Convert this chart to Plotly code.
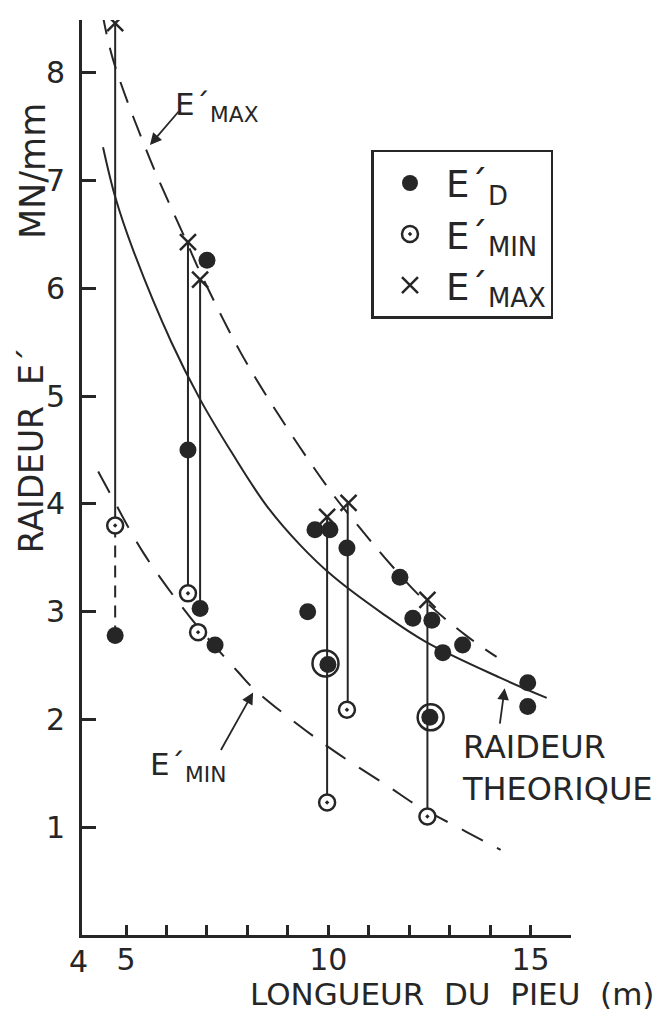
import plotly.graph_objects as go

# ---------------- data ----------------
# measured stiffness E'D  (length m, MN/mm)
ed_x = [4.73, 6.53, 6.83, 7.00, 7.20, 9.49, 9.67, 9.99, 10.04, 10.46, 11.77, 12.09, 12.51, 12.56, 12.83, 13.32, 14.93, 14.93]
ed_y = [2.78, 4.50, 3.03, 6.26, 2.69, 3.00, 3.76, 2.51, 3.76, 3.59, 3.32, 2.94, 2.02, 2.92, 2.62, 2.69, 2.34, 2.12]

# E'MIN points
emin_x = [4.73, 6.53, 6.78, 9.97, 10.46, 12.45]
emin_y = [3.80, 3.17, 2.81, 1.23, 2.09, 1.10]

# E'MAX points
emax_x = [4.73, 6.53, 6.83, 9.97, 10.50, 12.45]
emax_y = [8.46, 6.43, 6.08, 3.88, 4.01, 3.11]

# ringed points (E'D coinciding with a circled value)
ring_x = [9.93, 12.53]
ring_y = [2.52, 2.02]

# vertical range bars (solid) : x, top, bottom
stem_x = [4.73, 6.53, 6.83, 9.97, 10.48, 12.45]
stem_top = [8.46, 6.43, 6.08, 3.88, 4.01, 3.11]
stem_bot = [3.80, 3.17, 3.03, 1.23, 2.09, 1.10]
# dashed bar
dstem_x = [4.73]
dstem_top = [3.80]
dstem_bot = [2.78]

# curves
cmax_x = [4.41, 4.68, 5.59, 6.51, 6.83, 7.81, 8.73, 10.05, 10.73, 11.42, 12.33, 13.40, 14.16]
cmax_y = [8.56, 8.12, 7.20, 6.42, 6.15, 5.42, 4.85, 4.12, 3.80, 3.49, 3.12, 2.78, 2.58]

cth_x = [4.43, 4.73, 5.17, 6.12, 6.83, 7.64, 8.48, 9.30, 10.11, 11.35, 12.41, 14.23, 15.40]
cth_y = [7.31, 6.85, 6.36, 5.50, 4.97, 4.46, 3.98, 3.62, 3.33, 2.98, 2.72, 2.39, 2.20]

cmin_x = [4.31, 4.60, 5.42, 6.58, 7.77, 8.14, 9.22, 10.21, 11.52, 12.16, 13.40, 14.26]
cmin_y = [4.30, 4.10, 3.55, 2.95, 2.44, 2.29, 1.96, 1.69, 1.37, 1.21, 0.96, 0.79]

x_tickvals = [5, 6, 7, 8, 9, 10, 11, 12, 13, 14, 15]
x_ticktext = ["5", "", "", "", "", "10", "", "", "", "", "15"]
y_tickvals = [1, 2, 3, 4, 5, 6, 7, 8]

# ---------------- figure ----------------
INK = "#262626"
FONT = "DejaVu Sans, Liberation Sans, sans-serif"

def bars(xs, tops, bots):
    X, Y = [], []
    for x, t, b in zip(xs, tops, bots):
        X += [x, x, None]
        Y += [t, b, None]
    return X, Y

fig = go.Figure()

fig.add_trace(go.Scatter(x=cmax_x, y=cmax_y, mode="lines", line_shape="spline",
                         line=dict(color=INK, width=2, dash="22px,14px"), showlegend=False, hoverinfo="skip"))
fig.add_trace(go.Scatter(x=cth_x, y=cth_y, mode="lines", line_shape="spline",
                         line=dict(color=INK, width=2), showlegend=False, hoverinfo="skip"))
fig.add_trace(go.Scatter(x=cmin_x, y=cmin_y, mode="lines", line_shape="spline",
                         line=dict(color=INK, width=2, dash="24px,16px"), showlegend=False, hoverinfo="skip"))

sx, sy = bars(stem_x, stem_top, stem_bot)
fig.add_trace(go.Scatter(x=sx, y=sy, mode="lines", line=dict(color=INK, width=2),
                         showlegend=False, hoverinfo="skip"))
dx, dy = bars(dstem_x, dstem_top, dstem_bot)
fig.add_trace(go.Scatter(x=dx, y=dy, mode="lines", line=dict(color=INK, width=2, dash="12px,8px"),
                         showlegend=False, hoverinfo="skip"))

fig.add_trace(go.Scatter(x=ring_x, y=ring_y, mode="markers",
                         marker=dict(symbol="circle-open", size=26, color=INK, line=dict(width=2.5, color=INK)),
                         showlegend=False, hoverinfo="skip"))

fig.add_trace(go.Scatter(x=emin_x, y=emin_y, mode="markers", name="E´<sub>MIN</sub>", legendrank=2,
                         legendgroup="b",
                         marker=dict(symbol="circle-dot", size=16, color="white", line=dict(width=2.5, color=INK))))
fig.add_trace(go.Scatter(x=ed_x, y=ed_y, mode="markers", name="E´<sub>D</sub>", legendrank=1,
                         legendgroup="a",
                         marker=dict(symbol="circle", size=17, color=INK)))
fig.add_trace(go.Scatter(x=emax_x, y=emax_y, mode="markers", name="E´<sub>MAX</sub>", legendrank=3,
                         legendgroup="c",
                         marker=dict(symbol="x-thin", size=16, color=INK, line=dict(width=2.5, color=INK))))

ann = []
# curve labels
ann.append(dict(x=6.16, y=7.69, xref="x", yref="y", text="E´<sub>MAX</sub>", showarrow=False,
                xanchor="left", yanchor="middle", font=dict(size=31, color=INK, family=FONT)))
ann.append(dict(x=5.54, y=1.56, xref="x", yref="y", text="E´<sub>MIN</sub>", showarrow=False,
                xanchor="left", yanchor="middle", font=dict(size=31, color=INK, family=FONT)))
ann.append(dict(x=13.25, y=1.55, xref="x", yref="y", text="RAIDEUR<br>THEORIQUE", showarrow=False,
                xanchor="left", yanchor="middle", align="left", font=dict(size=32, color=INK, family=FONT)))
# arrows
for tx, ty, ax, ay in [(5.59, 7.33, 30, -35), (8.14, 2.25, -33, 59), (14.36, 2.29, -5, 37)]:
    ann.append(dict(x=tx, y=ty, xref="x", yref="y", text="", showarrow=True, ax=ax, ay=ay,
                    arrowhead=2, arrowsize=1.3, arrowwidth=1.8, arrowcolor=INK, standoff=0))
# axis titles
ann.append(dict(x=-0.104, y=0.53, xref="paper", yref="paper", text="RAIDEUR  E´", showarrow=False,
                xanchor="center", yanchor="middle",
                textangle=-90, font=dict(size=33, color=INK, family=FONT)))
ann.append(dict(x=-0.100, y=0.835, xref="paper", yref="paper", text="MN/mm", showarrow=False,
                xanchor="center", yanchor="middle",
                textangle=-90, font=dict(size=35, color=INK, family=FONT)))
ann.append(dict(x=0.757, y=-0.0865, xref="paper", yref="paper", text="LONGUEUR  DU  PIEU  (m)", showarrow=False,
                xanchor="center", yanchor="bottom",
                font=dict(size=31, color=INK, family=FONT)))
ann.append(dict(x=-0.008, y=-0.008, xref="paper", yref="paper", text="4", showarrow=False,
                xanchor="center", yanchor="top",
                font=dict(size=30, color=INK, family=FONT)))

fig.update_layout(
    width=658, height=1008,
    margin=dict(l=74, r=95, t=12, b=81, autoexpand=False),
    paper_bgcolor="white", plot_bgcolor="white",
    font=dict(family=FONT, size=30, color=INK),
    annotations=ann,
    legend=dict(x=0.592, y=0.858, xanchor="left", yanchor="top",
                bordercolor=INK, borderwidth=2.5, bgcolor="white",
                font=dict(size=37, color=INK, family=FONT), traceorder="normal",
                tracegroupgap=2, itemwidth=62, entrywidth=130),
    xaxis=dict(range=[3.91, 16.0], showline=True, linecolor=INK, linewidth=2.5, automargin=False,
               ticks="inside", ticklen=10, tickwidth=2.5, tickcolor=INK, ticklabelstandoff=-4,
               tickvals=x_tickvals, ticktext=x_ticktext, showgrid=False, zeroline=False,
               tickfont=dict(size=30, color=INK, family=FONT)),
    yaxis=dict(range=[0, 8.49], showline=True, linecolor=INK, linewidth=3, automargin=False,
               ticks="inside", ticklen=14, tickwidth=2.5, tickcolor=INK,
               tickvals=y_tickvals, showgrid=False, zeroline=False, ticklabelstandoff=8,
               tickfont=dict(size=30, color=INK, family=FONT)),
)

fig.write_html("out.html")
